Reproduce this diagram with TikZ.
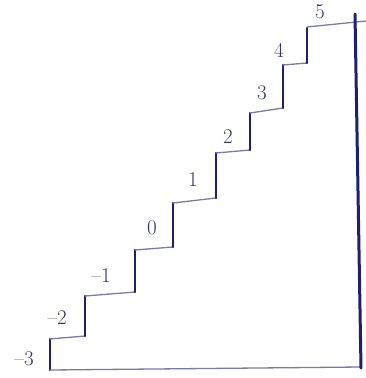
\documentclass[tikz,border=0pt]{standalone}
\begin{document}
\begin{tikzpicture}[x=1pt,y=-1pt,
  riser/.style={draw=inkdark,line width=2.4pt,line cap=round},
  tread/.style={draw=inklight,line width=1.3pt,line cap=round},
  lbl/.style={text=inklabel,font=\fontsize{21}{21}\selectfont,inner sep=0pt}]
\definecolor{inkdark}{HTML}{1E1E72}
\definecolor{inklight}{HTML}{7A7AA8}
\definecolor{inklabel}{HTML}{33336A}
\useasboundingbox (0,0) rectangle (366,378);
% staircase
\draw[riser] (50,370) -- (50,339);
\draw[tread] (50,339) -- (85,336);
\draw[riser] (85,336) -- (85,296);
\draw[tread] (85,296) -- (135,292);
\draw[riser] (135,292) -- (135,250);
\draw[tread] (135,250) -- (173,247);
\draw[riser] (173,247) -- (173,203);
\draw[tread] (173,203) -- (216,198);
\draw[riser] (216,198) -- (216,153);
\draw[tread] (216,153) -- (250,150);
\draw[riser] (250,150) -- (250,113);
\draw[tread] (250,113) -- (283,108);
\draw[riser] (283,108) -- (283,65);
\draw[tread] (283,65) -- (307,63);
\draw[riser] (307,63) -- (307,28);
\draw[tread] (307,27) -- (366,21);
% base and right wall
\draw[tread] (50,370) -- (361,367);
\draw[riser,line width=3pt] (355,14) -- (361,368);
% labels
\node[lbl] (m3) at (24,359) {--3};
\node[lbl] (m2) at (57,318) {--2};
\node[lbl] (m1) at (101,276) {--1};
\node[lbl] (z0) at (152,228) {0};
\node[lbl] (p1) at (193,180) {1};
\node[lbl] (p2) at (228,137) {2};
\node[lbl] (p3) at (262,93) {3};
\node[lbl] (p4) at (279,50) {4};
\node[lbl] (p5) at (320,12) {5};
\end{tikzpicture}
\end{document}
